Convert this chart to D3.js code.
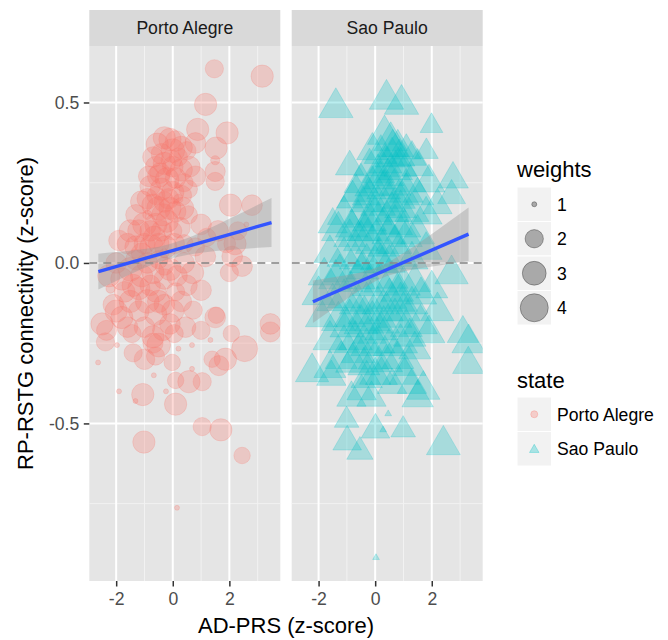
<!DOCTYPE html>
<html>
<head>
<meta charset="utf-8">
<script src="https://cdn.jsdelivr.net/npm/d3@7"></script>
<style>
  body { margin: 0; background: #fff; }
  text { font-family: "Liberation Sans", Arial, sans-serif; }
</style>
</head>
<body>
<script>
// ---- data ----
const facets = ["Porto Alegre", "Sao Paulo"];

// [AD-PRS, RP-RSTG connectivity, weight]
const portoAlegre = [
  [1.47, 0.605, 2.0], [3.16, 0.582, 2.7], [1.16, 0.494, 2.7], [0.88, 0.416, 2.7], [1.92, 0.405, 2.7],
  [1.53, 0.358, 2.7], [0.8, 0.374, 2.4], [1.5, 0.32, 1.1], [1.5, 0.285, 2.3], [0.8, 0.27, 2.4],
  [1.5, 0.254, 2.0], [2.04, 0.18, 2.7], [2.8, 0.18, 2.4],
  [-0.55, 0.37, 2.7], [-0.3, 0.39, 2.7], [-0.1, 0.385, 2.7], [0.1, 0.38, 2.4], [0.3, 0.36, 2.7],
  [-0.4, 0.34, 2.4], [0.0, 0.35, 3.0], [0.2, 0.33, 2.0], [-0.7, 0.33, 2.4], [0.5, 0.35, 2.0],
  [-0.6, 0.3, 2.4], [-0.3, 0.31, 2.7], [0.0, 0.3, 2.4], [0.3, 0.29, 2.7], [-0.5, 0.27, 2.7],
  [-0.2, 0.26, 3.0], [0.1, 0.265, 2.4], [0.4, 0.25, 2.0], [-0.8, 0.24, 2.4], [-0.4, 0.23, 2.7],
  [0.0, 0.22, 2.7], [0.3, 0.21, 2.4], [-0.6, 0.21, 2.0], [0.6, 0.3, 2.4], [0.55, 0.23, 2.0],
  [-0.15, 0.28, 1.0], [0.15, 0.24, 1.0], [-0.85, 0.27, 2.4], [-0.45, 0.28, 2.4], [-0.05, 0.32, 2.4],
  [-1.5, 0.1, 2.7], [-1.3, 0.15, 2.4], [-1.1, 0.19, 2.7], [-0.9, 0.2, 2.4], [-0.7, 0.18, 2.7],
  [-0.5, 0.17, 3.0], [-0.3, 0.19, 2.4], [-0.1, 0.17, 2.7], [0.1, 0.16, 2.4], [0.35, 0.17, 2.7],
  [0.55, 0.15, 2.0], [-1.2, 0.1, 2.7], [-1.0, 0.12, 3.0], [-0.8, 0.1, 2.4], [-0.6, 0.12, 2.7],
  [-0.4, 0.1, 2.4], [-0.2, 0.13, 2.7], [0.0, 0.1, 2.0], [0.25, 0.11, 2.4], [-1.6, 0.06, 2.4],
  [-1.3, 0.05, 2.7], [-1.0, 0.06, 2.4], [-0.75, 0.05, 3.0], [-0.5, 0.06, 2.4], [-0.25, 0.05, 2.7],
  [0.05, 0.06, 2.4], [0.4, 0.06, 2.0], [-1.9, 0.07, 2.4], [-0.9, 0.15, 1.1], [0.2, 0.2, 1.1],
  [-0.35, 0.15, 2.7], [-0.15, 0.2, 2.4], [-0.65, 0.08, 2.7],
  [1.0, 0.12, 2.4], [1.2, 0.08, 2.0], [0.8, 0.05, 2.0], [1.6, 0.1, 2.4], [2.3, 0.1, 2.0],
  [2.6, 0.12, 1.0], [1.9, 0.06, 2.0],
  [-2.26, -0.04, 2.7], [-2.0, 0.0, 2.4], [-1.8, -0.05, 2.7], [-1.5, -0.02, 3.0], [-1.3, 0.01, 2.4],
  [-1.1, -0.04, 2.7], [-0.9, 0.0, 2.4], [-0.7, -0.03, 2.7], [-0.5, 0.01, 2.0], [-0.3, -0.05, 2.4],
  [-0.1, -0.02, 2.7], [0.15, -0.04, 2.4], [0.4, 0.0, 2.4], [0.7, -0.03, 2.7], [1.15, 0.02, 2.4],
  [2.1, 0.02, 2.4], [2.45, -0.01, 2.4], [2.2, 0.06, 2.7], [2.0, -0.03, 2.0], [1.0, -0.085, 2.4],
  [-1.7, -0.09, 2.4], [-1.2, -0.08, 2.7], [-0.6, -0.09, 2.4], [0.1, -0.09, 2.0], [0.5, -0.07, 2.4],
  [-2.2, -0.08, 1.1], [-0.3, 0.03, 1.1], [-1.1, 0.03, 2.4], [-0.3, -0.01, 2.0], [-1.4, -0.07, 2.7],
  [-0.8, -0.07, 2.4],
  [-2.5, -0.19, 2.7], [-1.8, -0.17, 2.7], [-2.1, -0.13, 2.4], [-1.5, -0.12, 2.7], [-1.2, -0.15, 2.4],
  [-0.9, -0.12, 3.0], [-0.6, -0.16, 2.7], [-0.3, -0.13, 2.4], [0.0, -0.15, 2.7], [0.3, -0.12, 2.4],
  [0.72, -0.147, 2.0], [1.54, -0.163, 1.75], [1.5, -0.17, 2.4], [3.45, -0.19, 2.4], [-1.44, -0.22, 2.0],
  [-2.34, -0.21, 2.3], [-1.0, -0.2, 2.4], [-0.7, -0.23, 2.7], [-0.35, -0.21, 2.4], [0.05, -0.22, 2.0],
  [0.45, -0.2, 2.4], [1.0, -0.21, 2.0], [2.07, -0.22, 1.75], [2.54, -0.267, 3.5], [3.45, -0.215, 2.3],
  [1.33, -0.24, 1.0], [-1.97, -0.256, 1.0], [0.68, -0.256, 1.0], [0.2, -0.267, 1.0],
  [-2.0, -0.15, 2.7], [-1.6, -0.2, 2.4], [-0.1, -0.19, 2.4], [-0.5, -0.12, 2.7],
  [-2.38, -0.246, 2.0], [-2.64, -0.31, 1.0], [-1.9, -0.4, 1.0], [-1.06, -0.41, 2.7], [-1.32, -0.43, 1.0],
  [-0.67, -0.35, 1.0], [-0.5, -0.256, 3.0], [-0.61, -0.29, 2.0], [0.1, -0.44, 2.7], [0.1, -0.366, 1.75],
  [-0.02, -0.31, 1.75], [-0.24, -0.4, 1.0], [0.57, -0.37, 2.7], [1.04, -0.37, 2.0], [1.39, -0.3, 1.75],
  [1.86, -0.3, 2.7], [1.63, -0.32, 2.3], [0.68, -0.33, 1.0], [-0.7, -0.25, 2.3], [-1.4, -0.28, 2.0],
  [-1.0, -0.3, 2.4],
  [1.04, -0.51, 2.0], [1.7, -0.52, 2.7], [2.45, -0.6, 1.75], [-1.02, -0.558, 2.7], [0.15, -0.763, 1.0]
];

const saoPaulo = [
  [-1.39, 0.484, 3.4], [0.4, 0.51, 3.4], [0.93, 0.494, 3.4], [1.99, 0.427, 1.8], [0.33, 0.4, 3.3],
  [1.81, 0.347, 1.9], [2.75, 0.261, 2.8], [2.7, 0.21, 2.4],
  [0.55, 0.38, 3.2], [0.8, 0.36, 2.9], [1.1, 0.35, 2.6], [0.2, 0.34, 3.2], [0.6, 0.33, 3.4],
  [1.3, 0.33, 2.5], [-0.2, 0.3, 3.0], [0.9, 0.3, 3.2], [1.5, 0.3, 2.9], [0.1, 0.28, 3.2],
  [0.45, 0.27, 3.0], [0.62, 0.36, 2.9], [0.85, 0.33, 2.9], [-0.1, 0.35, 2.9], [-0.9, 0.3, 2.5],
  [0.37, 0.31, 3.1], [0.72, 0.29, 3.3],
  [-0.5, 0.25, 3.3], [-0.1, 0.24, 3.5], [0.3, 0.23, 3.3], [0.7, 0.24, 3.0], [1.1, 0.22, 3.3],
  [1.5, 0.21, 3.0], [-0.8, 0.2, 3.0], [-0.3, 0.19, 3.3], [0.1, 0.18, 3.5], [0.5, 0.19, 3.3],
  [0.9, 0.17, 3.0], [1.3, 0.16, 3.3], [1.8, 0.15, 3.0], [-1.1, 0.15, 3.2], [-0.6, 0.14, 3.0],
  [-0.2, 0.13, 3.3], [0.3, 0.12, 3.0], [0.7, 0.12, 3.5], [2.2, 0.18, 2.6], [1.9, 0.25, 3.0],
  [-0.4, 0.1, 3.3], [0.0, 0.15, 3.3], [0.6, 0.16, 3.3], [-0.23, 0.21, 3.1], [0.83, 0.2, 3.2],
  [1.24, 0.25, 2.8], [-0.67, 0.22, 2.9], [0.18, 0.26, 3.1],
  [-1.3, 0.1, 3.3], [-0.9, 0.08, 3.0], [-0.5, 0.07, 3.5], [-0.1, 0.06, 3.3], [0.3, 0.05, 3.0],
  [0.7, 0.06, 3.3], [1.1, 0.08, 3.0], [1.5, 0.09, 3.3], [-1.6, 0.03, 3.0], [-1.1, 0.02, 3.3],
  [-0.7, 0.01, 3.0], [-0.3, 0.0, 3.3], [0.1, 0.01, 3.5], [0.5, 0.0, 3.0], [0.9, 0.02, 3.3],
  [1.3, 0.01, 3.0], [1.8, 0.04, 3.0], [2.7, -0.035, 3.2], [-1.5, 0.12, 2.6], [0.2, 0.0, 3.5],
  [-0.83, 0.11, 3.1], [0.47, 0.09, 3.2], [-0.12, 0.1, 3.4], [1.04, 0.11, 3.1],
  [-1.8, -0.04, 3.0], [-1.4, -0.05, 3.3], [-1.0, -0.06, 3.0], [-0.6, -0.05, 3.3], [-0.2, -0.07, 3.5],
  [0.2, -0.06, 3.3], [0.6, -0.05, 3.0], [1.0, -0.07, 3.3], [1.4, -0.06, 3.0], [2.0, -0.08, 3.0],
  [-2.0, -0.1, 3.2], [-1.5, -0.12, 3.0], [-1.1, -0.11, 3.3], [-0.7, -0.13, 3.0], [-0.3, -0.12, 3.3],
  [0.1, -0.13, 3.0], [0.5, -0.11, 3.5], [0.9, -0.12, 3.3], [1.3, -0.13, 3.0], [2.2, -0.15, 3.2],
  [3.3, -0.25, 3.2], [0.4, -0.15, 3.3], [1.0, -0.15, 3.3], [-0.45, -0.02, 3.2], [0.78, -0.09, 3.1],
  [-1.25, -0.03, 3.0], [1.62, -0.1, 2.9],
  [-1.9, -0.17, 3.0], [-1.3, -0.18, 3.3], [-0.9, -0.17, 3.0], [-0.5, -0.19, 3.3], [-0.1, -0.18, 3.5],
  [0.3, -0.19, 3.0], [0.7, -0.17, 3.3], [1.1, -0.2, 3.0], [1.6, -0.19, 3.3], [-1.6, -0.24, 3.3],
  [-1.1, -0.25, 3.0], [-0.7, -0.24, 3.3], [-0.3, -0.26, 3.0], [0.1, -0.25, 3.3], [0.5, -0.26, 3.0],
  [0.9, -0.25, 3.3], [1.4, -0.27, 3.0], [1.9, -0.22, 3.0], [3.1, -0.22, 2.9], [3.29, -0.316, 2.9],
  [-0.2, -0.22, 3.3], [-0.6, -0.28, 3.3], [-1.0, -0.2, 3.3], [0.22, -0.21, 3.2], [-0.38, -0.16, 3.1],
  [1.22, -0.23, 3.1],
  [-2.23, -0.34, 3.2], [-1.6, -0.328, 3.0], [-1.55, -0.355, 2.6], [-1.2, -0.3, 3.0], [-0.8, -0.31, 3.3],
  [-0.4, -0.32, 3.0], [0.0, -0.3, 3.3], [0.4, -0.31, 3.0], [0.8, -0.3, 3.0], [1.2, -0.32, 3.3],
  [1.7, -0.395, 3.2], [1.5, -0.42, 2.9], [1.04, -0.35, 2.9], [0.22, -0.35, 3.0], [-0.48, -0.4, 2.6],
  [-0.13, -0.42, 2.6], [-0.84, -0.42, 2.6], [-0.3, -0.36, 2.9], [0.6, -0.38, 2.6], [1.3, -0.38, 2.6],
  [0.0, -0.35, 2.9],
  [-1.01, -0.49, 2.0], [-0.99, -0.557, 2.5], [-0.54, -0.588, 2.2], [0.01, -0.52, 2.5], [0.46, -0.47, 1.0],
  [0.28, -0.52, 1.0], [0.99, -0.52, 2.0], [2.41, -0.567, 3.3], [0.03, -0.918, 1.0]
];

// linear fit (ends) and its confidence band [x, lower, upper]
const portoFit = [[-2.63, -0.027], [3.49, 0.126]];
const portoBand = [
  [-2.63, -0.083, 0.029], [-2.0, -0.056, 0.034], [-1.5, -0.035, 0.038], [-0.1, 0.013, 0.059],
  [0.5, 0.025, 0.077], [1.0, 0.032, 0.096], [2.2, 0.042, 0.146], [3.49, 0.05, 0.202]
];
const saoFit = [[-2.2, -0.121], [3.3, 0.0897]];
const saoBand = [
  [-2.2, -0.187, -0.055], [-1.2, -0.125, -0.041], [-0.5, -0.083, -0.029], [0.2, -0.049, -0.009],
  [1.0, -0.027, 0.031], [2.2, -0.009, 0.103], [3.3, 0.006, 0.173]
];

const xTicks = [-2, 0, 2];
const xMinor = [-1, 1, 3];
const yTicks = [-0.5, 0, 0.5];
const yTickLabels = ["-0.5", "0.0", "0.5"];
const yMinor = [-0.75, -0.25, 0.25];
const weightBreaks = [1, 2, 3, 4];
const stateColors = ["#F8766D", "#00BFC4"];

// ---- layout ----
const W = 668, H = 640;
const stripTop = 10, panelTop = 46, panelBottom = 581;
const panelLefts = [89.3, 291.7], panelWidth = 191;
const pointAlpha = 0.27;

const svg = d3.select("body")
    .append("svg")
    .attr("width", W)
    .attr("height", H);

const x = d3.scaleLinear().domain([-2.95, 3.8]).range([0, panelWidth]);
const y = d3.scaleLinear().domain([-0.991, 0.676]).range([panelBottom, panelTop]);

// ggplot-style area size scale
const sizeNorm = d3.scaleLinear().domain([1, 4]).range([0, 1]).clamp(true);
const radius = d3.scaleLinear().domain([0, 1]).range([2.5, 14]);
const r = w => radius(Math.sqrt(sizeNorm(w)));

function triangle(R) {
    return `M0,${-1.555 * R}L${1.347 * R},${0.778 * R}L${-1.347 * R},${0.778 * R}Z`;
}

const series = [portoAlegre, saoPaulo];
const fits = [portoFit, saoFit];
const bands = [portoBand, saoBand];

facets.forEach((name, i) => {
    const g = svg.append("g").attr("transform", `translate(${panelLefts[i]},0)`);

    g.append("clipPath").attr("id", "clip" + i)
        .append("rect").attr("x", 0).attr("y", panelTop)
        .attr("width", panelWidth).attr("height", panelBottom - panelTop);

    // strip
    g.append("rect").attr("x", 0).attr("y", stripTop)
        .attr("width", panelWidth).attr("height", panelTop - stripTop)
        .attr("fill", "#d9d9d9");
    g.append("text").attr("x", panelWidth / 2).attr("y", (stripTop + panelTop) / 2 + 6)
        .attr("text-anchor", "middle").attr("font-size", 17.6).attr("fill", "#1a1a1a")
        .text(name);

    // panel background + grid
    g.append("rect").attr("x", 0).attr("y", panelTop)
        .attr("width", panelWidth).attr("height", panelBottom - panelTop)
        .attr("fill", "#e5e5e5");

    g.selectAll(".ymin").data(yMinor).enter().append("line")
        .attr("x1", 0).attr("x2", panelWidth).attr("y1", d => y(d)).attr("y2", d => y(d))
        .attr("stroke", "#f2f2f2").attr("stroke-width", 1);
    g.selectAll(".xmin").data(xMinor).enter().append("line")
        .attr("y1", panelTop).attr("y2", panelBottom).attr("x1", d => x(d)).attr("x2", d => x(d))
        .attr("stroke", "#f2f2f2").attr("stroke-width", 1);
    g.selectAll(".ymaj").data(yTicks).enter().append("line")
        .attr("x1", 0).attr("x2", panelWidth).attr("y1", d => y(d)).attr("y2", d => y(d))
        .attr("stroke", "#fff").attr("stroke-width", 2);
    g.selectAll(".xmaj").data(xTicks).enter().append("line")
        .attr("y1", panelTop).attr("y2", panelBottom).attr("x1", d => x(d)).attr("x2", d => x(d))
        .attr("stroke", "#fff").attr("stroke-width", 2);

    const plot = g.append("g").attr("clip-path", `url(#clip${i})`);

    // points
    const pts = plot.selectAll(".pt").data(series[i]).enter();
    if (i === 0) {
        pts.append("circle")
            .attr("cx", d => x(d[0])).attr("cy", d => y(d[1])).attr("r", d => r(d[2]))
            .attr("fill", stateColors[0]).attr("fill-opacity", pointAlpha)
            .attr("stroke", stateColors[0]).attr("stroke-opacity", pointAlpha).attr("stroke-width", 0.8);
    } else {
        pts.append("path")
            .attr("transform", d => `translate(${x(d[0])},${y(d[1])})`)
            .attr("d", d => triangle(r(d[2])))
            .attr("fill", stateColors[1]).attr("fill-opacity", pointAlpha)
            .attr("stroke", stateColors[1]).attr("stroke-opacity", pointAlpha).attr("stroke-width", 0.8);
    }

    // dashed zero line
    plot.append("line").attr("x1", 0).attr("x2", panelWidth).attr("y1", y(0)).attr("y2", y(0))
        .attr("stroke", "#7f7f7f").attr("stroke-width", 1.6).attr("stroke-dasharray", "8,6");

    // confidence band + fit line
    const area = d3.area().curve(d3.curveMonotoneX)
        .x(d => x(d[0])).y0(d => y(d[1])).y1(d => y(d[2]));
    plot.append("path").datum(bands[i]).attr("d", area)
        .attr("fill", "#999999").attr("fill-opacity", 0.4);
    plot.append("path").datum(fits[i])
        .attr("d", d3.line().x(d => x(d[0])).y(d => y(d[1])))
        .attr("stroke", "#3355FF").attr("stroke-width", 3.4).attr("fill", "none");

    // x axis
    const xa = g.append("g").attr("transform", `translate(0,${panelBottom})`)
        .call(d3.axisBottom(x).tickValues(xTicks).tickSize(5.5).tickPadding(6).tickFormat(d => String(d)));
    xa.select(".domain").remove();
    xa.selectAll("line").attr("stroke", "#333").attr("stroke-width", 1.5);
    xa.selectAll("text").attr("font-size", 17.6).attr("fill", "#4d4d4d")
        .attr("font-family", "Liberation Sans, Arial, sans-serif");

    if (i === 0) {
        const ya = g.append("g")
            .call(d3.axisLeft(y).tickValues(yTicks).tickSize(5.5).tickPadding(4.5)
                .tickFormat((d, k) => yTickLabels[k]));
        ya.select(".domain").remove();
        ya.selectAll("line").attr("stroke", "#333").attr("stroke-width", 1.5);
        ya.selectAll("text").attr("font-size", 17.6).attr("fill", "#4d4d4d")
            .attr("font-family", "Liberation Sans, Arial, sans-serif");
    }
});

// axis titles
svg.append("text")
    .attr("x", (panelLefts[0] + panelLefts[1] + panelWidth) / 2).attr("y", 633)
    .attr("text-anchor", "middle").attr("font-size", 22).attr("fill", "#000")
    .text("AD-PRS (z-score)");
svg.append("text")
    .attr("transform", `translate(33,${(panelTop + panelBottom) / 2}) rotate(-90)`)
    .attr("text-anchor", "middle").attr("font-size", 22).attr("fill", "#000")
    .text("RP-RSTG connectivity (z-score)");

// ---- legends ----
const legX = 517, keySize = 34.5;
const leg = svg.append("g");

leg.append("text").attr("x", legX).attr("y", 177).attr("font-size", 22).text("weights");
const wKeys = leg.selectAll(".wkey").data(weightBreaks).enter().append("g")
    .attr("transform", (d, k) => `translate(${legX},${187 + k * keySize})`);
wKeys.append("rect").attr("width", keySize).attr("height", keySize)
    .attr("fill", "#f2f2f2").attr("stroke", "#fff").attr("stroke-width", 1);
wKeys.append("circle").attr("cx", keySize / 2).attr("cy", keySize / 2).attr("r", d => r(d))
    .attr("fill", "#000").attr("fill-opacity", 0.3)
    .attr("stroke", "#000").attr("stroke-opacity", 0.3).attr("stroke-width", 1);
wKeys.append("text").attr("x", keySize + 5.5).attr("y", keySize / 2 + 6.3)
    .attr("font-size", 17.6).attr("fill", "#000").text(d => d);

leg.append("text").attr("x", legX).attr("y", 388).attr("font-size", 22).text("state");
const sKeys = leg.selectAll(".skey").data(facets).enter().append("g")
    .attr("transform", (d, k) => `translate(${legX},${397 + k * keySize})`);
sKeys.append("rect").attr("width", keySize).attr("height", keySize)
    .attr("fill", "#f2f2f2").attr("stroke", "#fff").attr("stroke-width", 1);
sKeys.each(function (d, k) {
    const s = d3.select(this);
    if (k === 0) {
        s.append("circle").attr("cx", keySize / 2).attr("cy", keySize / 2).attr("r", 3.5)
            .attr("fill", stateColors[0]).attr("fill-opacity", 0.3)
            .attr("stroke", stateColors[0]).attr("stroke-opacity", 0.3);
    } else {
        s.append("path").attr("transform", `translate(${keySize / 2},${keySize / 2 + 1})`)
            .attr("d", triangle(3.5))
            .attr("fill", stateColors[1]).attr("fill-opacity", 0.3)
            .attr("stroke", stateColors[1]).attr("stroke-opacity", 0.3);
    }
});
sKeys.append("text").attr("x", keySize + 5.5).attr("y", keySize / 2 + 6.3)
    .attr("font-size", 17.6).attr("fill", "#000").text(d => d);
</script>
</body>
</html>
